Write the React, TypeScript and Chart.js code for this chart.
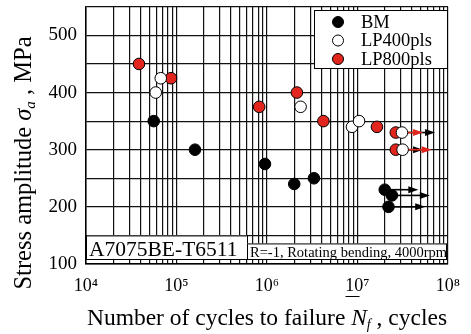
import React, { useEffect, useRef } from 'react';
import { Chart, registerables } from 'chart.js';

Chart.register(...registerables);

// ---- data ----
const bmCycles = [5.6e4, 1.6e5, 9.5e5, 2.0e6, 3.3e6, 2.0e7, 2.4e7, 2.2e7];
const bmStress = [350, 300, 275, 240, 250, 230, 220, 200];
const lp400Cycles = [6.7e4, 5.9e4, 2.35e6, 8.7e6, 1.04e7, 3.1e7, 3.15e7];
const lp400Stress = [425, 400, 375, 340, 350, 330, 300];
const lp800Cycles = [3.85e4, 8.7e4, 8.2e5, 2.14e6, 4.2e6, 1.64e7, 2.65e7, 2.65e7];
const lp800Stress = [450, 425, 375, 400, 350, 340, 330, 300];

// run-out arrows: [from cycles, to cycles, stress]
const bmRunouts = [[2.0e7, 4.7e7, 230], [2.4e7, 6.3e7, 220], [2.2e7, 5.6e7, 200]];
const lp400Runouts = [[3.1e7, 7.2e7, 330], [3.15e7, 5.3e7, 300]];
const lp800Runouts = [[2.65e7, 5.3e7, 330], [2.65e7, 6.6e7, 300]];

const xDecades = [1e4, 1e5, 1e6, 1e7, 1e8];
const xMultipliers = [1, 2, 3, 4, 5, 6, 7, 8, 9];
const xMajorLabels = ['10\u2074', '10\u2075', '10\u2076', '10\u2077', '10\u2078'];
const yTickLabels = [100, 200, 300, 400, 500];

const seriesNames = ['BM', 'LP400pls', 'LP800pls'];
const materialLabel = 'A7075BE-T6511';
const conditionLabel = 'R=-1, Rotating bending, 4000rpm';

const SERIF = '"Liberation Serif", "Times New Roman", serif';
const RED = '#e2261d';

type Seg = { t: string; f: string; dy?: number };

function drawSegs(ctx: CanvasRenderingContext2D, segs: Seg[], cx: number, y: number) {
  let total = 0;
  const widths = segs.map((s) => {
    ctx.font = s.f;
    const w = ctx.measureText(s.t).width;
    total += w;
    return w;
  });
  let x = cx - total / 2;
  ctx.textAlign = 'left';
  ctx.textBaseline = 'alphabetic';
  segs.forEach((s, i) => {
    ctx.font = s.f;
    ctx.fillText(s.t, x, y + (s.dy || 0));
    x += widths[i];
  });
}

function arrow(ctx: CanvasRenderingContext2D, x0: number, x1: number, y: number, color: string) {
  const head = 10;
  ctx.strokeStyle = color;
  ctx.fillStyle = color;
  ctx.lineWidth = 1.6;
  ctx.beginPath();
  ctx.moveTo(x0, y);
  ctx.lineTo(x1 - head + 1, y);
  ctx.stroke();
  ctx.beginPath();
  ctx.moveTo(x1, y);
  ctx.lineTo(x1 - head, y - 3.5);
  ctx.lineTo(x1 - head, y + 3.5);
  ctx.closePath();
  ctx.fill();
}

const overlay = {
  id: 'overlay',
  beforeDatasetsDraw(chart: any) {
    const ctx = chart.ctx as CanvasRenderingContext2D;
    const xs = chart.scales.x;
    const ys = chart.scales.y;
    ctx.save();
    const draw = (list: number[][], color: string) =>
      list.forEach(([a, b, s]) =>
        arrow(ctx, xs.getPixelForValue(a), xs.getPixelForValue(b), ys.getPixelForValue(s), color)
      );
    draw(bmRunouts, '#000');
    draw(lp400Runouts, '#000');
    draw(lp800Runouts, RED);
    ctx.restore();
  },
  afterDatasetsDraw(chart: any) {
    const ctx = chart.ctx as CanvasRenderingContext2D;
    const a = chart.chartArea;
    const ys = chart.scales.y;
    ctx.save();
    // annotation boxes
    const top1 = ys.getPixelForValue(150);
    const bottom = a.bottom - 5;
    const split = 247;
    ctx.fillStyle = '#fff';
    ctx.strokeStyle = '#000';
    ctx.lineWidth = 1;
    ctx.fillRect(a.left + 1, top1, split - a.left - 1, bottom - top1);
    ctx.strokeRect(a.left + 0.5, top1 + 0.5, split - a.left, bottom - top1);
    const top2 = top1 + 8;
    ctx.fillRect(split, top2, a.right - 2 - split, bottom - top2);
    ctx.strokeRect(split + 0.5, top2 + 0.5, a.right - 2 - split, bottom - top2);
    ctx.fillStyle = '#000';
    ctx.textAlign = 'left';
    ctx.textBaseline = 'alphabetic';
    ctx.font = `21.5px ${SERIF}`;
    ctx.fillText(materialLabel, a.left + 3, bottom - 3);
    ctx.font = `14.5px ${SERIF}`;
    ctx.fillText(conditionLabel, split + 3, bottom - 2);

    // legend
    const lx = 314, ly = 10, lw = 133, lh = 58;
    ctx.fillStyle = '#fff';
    ctx.fillRect(lx, ly, lw, lh);
    ctx.strokeRect(lx + 0.5, ly + 0.5, lw, lh);
    const fills = ['#000', '#fff', RED];
    seriesNames.forEach((name, i) => {
      const cy = ly + 12 + i * 18.5;
      ctx.beginPath();
      ctx.arc(338, cy, 5.5, 0, Math.PI * 2);
      ctx.fillStyle = fills[i];
      ctx.fill();
      ctx.strokeStyle = '#000';
      ctx.lineWidth = 1;
      ctx.stroke();
      ctx.fillStyle = '#000';
      ctx.font = `18.5px ${SERIF}`;
      ctx.textBaseline = 'middle';
      ctx.fillText(name, 361, cy + 1);
    });
    ctx.restore();
  },
  afterDraw(chart: any) {
    const ctx = chart.ctx as CanvasRenderingContext2D;
    const a = chart.chartArea;
    const xs = chart.scales.x;
    ctx.save();
    ctx.fillStyle = '#000';
    // x title
    drawSegs(
      ctx,
      [
        { t: 'Number of cycles to failure ', f: `23.5px ${SERIF}` },
        { t: 'N', f: `italic 23.5px ${SERIF}` },
        { t: 'f', f: `italic 14px ${SERIF}`, dy: 4 },
        { t: ' , cycles', f: `23.5px ${SERIF}` },
      ],
      (a.left + a.right) / 2,
      325
    );
    // y title
    ctx.translate(31, 163);
    ctx.rotate(-Math.PI / 2);
    drawSegs(
      ctx,
      [
        { t: 'Stress amplitude ', f: `24.5px ${SERIF}` },
        { t: '\u03C3', f: `italic 24.5px ${SERIF}` },
        { t: 'a', f: `italic 15px ${SERIF}`, dy: 4 },
        { t: ' , MPa', f: `24.5px ${SERIF}` },
      ],
      0,
      0
    );
    ctx.restore();
    // underline under "10" of 10^7
    const x7 = xs.getPixelForValue(1e7);
    ctx.save();
    ctx.strokeStyle = '#000';
    ctx.lineWidth = 1;
    ctx.beginPath();
    ctx.moveTo(x7 - 12, 296.5);
    ctx.lineTo(x7 + 2, 296.5);
    ctx.stroke();
    ctx.restore();
  },
};

export default function App() {
  const ref = useRef<HTMLCanvasElement | null>(null);
  useEffect(() => {
    if (!ref.current) return;
    const mk = (xsArr: number[], ysArr: number[]) => xsArr.map((x, i) => ({ x, y: ysArr[i] }));
    const base = { pointRadius: 5.8, borderWidth: 1, borderColor: '#000', showLine: false };
    const xTickValues: number[] = [];
    xDecades.slice(0, -1).forEach((d) => xMultipliers.forEach((m) => xTickValues.push(d * m)));
    xTickValues.push(xDecades[xDecades.length - 1]);
    const chart = new Chart(ref.current, {
      type: 'scatter',
      data: {
        datasets: [
          { ...base, label: seriesNames[0], data: mk(bmCycles, bmStress), backgroundColor: '#000' },
          { ...base, label: seriesNames[1], data: mk(lp400Cycles, lp400Stress), backgroundColor: '#fff' },
          { ...base, label: seriesNames[2], data: mk(lp800Cycles, lp800Stress), backgroundColor: RED },
        ],
      },
      options: {
        animation: false,
        responsive: false,
        events: [],
        layout: { padding: { left: 0, top: 5, right: 23, bottom: 0 } },
        plugins: { legend: { display: false }, tooltip: { enabled: false } },
        scales: {
          x: {
            type: 'logarithmic',
            min: 1e4,
            max: 1e8,
            afterBuildTicks: (s: any) => {
              s.ticks = xTickValues.map((v) => ({ value: v }));
            },
            afterFit: (s: any) => {
              s.height = 70;
              s.paddingLeft = 0;
              s.paddingRight = 0;
            },
            grid: { color: '#111', lineWidth: 1.2, drawTicks: false },
            border: { color: '#000', width: 1.5 },
            ticks: {
              autoSkip: false,
              maxRotation: 0,
              minRotation: 0,
              padding: 11,
              color: '#000',
              font: { family: SERIF, size: 18 },
              callback: (v: any) => {
                const i = xDecades.indexOf(Number(v));
                return i >= 0 ? xMajorLabels[i] : '';
              },
            },
          },
          y: {
            min: 100,
            max: 550,
            afterFit: (s: any) => {
              s.width = 86;
              s.paddingTop = 0;
              s.paddingBottom = 0;
            },
            grid: { color: '#111', lineWidth: 1.2, drawTicks: false },
            border: { color: '#000', width: 1.5 },
            ticks: {
              stepSize: 50,
              padding: 9,
              color: '#000',
              font: { family: SERIF, size: 19 },
              callback: (v: any) => (yTickLabels.includes(Number(v)) ? String(v) : ''),
            },
          },
        },
      },
      plugins: [overlay],
    });
    return () => chart.destroy();
  }, []);
  return (
    <div style={{ position: 'absolute', left: 0, top: 0, width: 471, height: 334, background: '#fff' }}>
      <canvas ref={ref} width={471} height={334} style={{ display: 'block' }} />
    </div>
  );
}
